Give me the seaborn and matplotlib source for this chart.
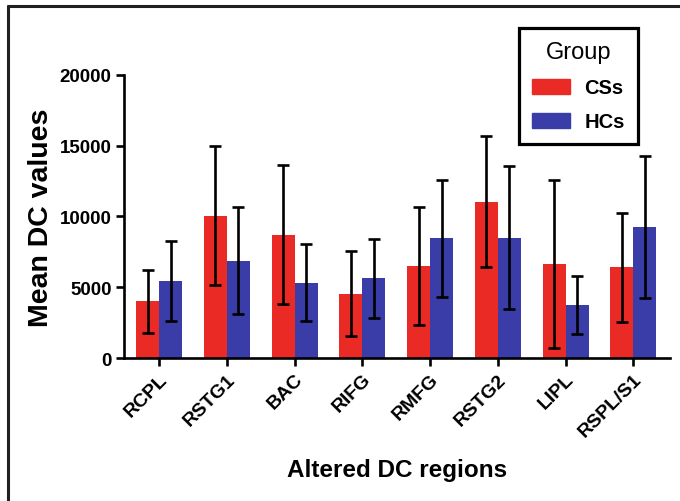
import matplotlib
matplotlib.use("Agg")
import matplotlib.pyplot as plt
from matplotlib.lines import Line2D
import pandas as pd
import numpy as np
import seaborn as sns

# values
regions = ['RCPL', 'RSTG1', 'BAC', 'RIFG', 'RMFG', 'RSTG2', 'LIPL', 'RSPL/S1']
groups = ['CSs', 'HCs']
cs_mean = [4000, 10060, 8690, 4550, 6480, 11030, 6620, 6410]
cs_sd = [2210, 4910, 4900, 2970, 4160, 4620, 5940, 3850]
hc_mean = [5460, 6880, 5320, 5630, 8460, 8500, 3750, 9260]
hc_sd = [2830, 3750, 2730, 2780, 4130, 5050, 2050, 5030]
colors = ['#EA2B25', '#3A3CA8']

df = pd.DataFrame({
    'region': regions * 2,
    'group': [groups[0]] * len(regions) + [groups[1]] * len(regions),
    'mean': cs_mean + hc_mean,
})
sds = [cs_sd, hc_sd]

sns.set_style('ticks')
plt.rcParams['font.family'] = ['Liberation Sans', 'DejaVu Sans']
plt.rcParams['text.color'] = 'black'
plt.rcParams['axes.labelcolor'] = 'black'
plt.rcParams['xtick.color'] = 'black'
plt.rcParams['ytick.color'] = 'black'

fig = plt.figure(figsize=(6.8, 5.02), dpi=100)
ax = fig.add_axes([124 / 680, 1 - 359 / 502, (670 - 124) / 680, (359 - 75.7) / 502])

sns.barplot(data=df, x='region', y='mean', hue='group', palette=colors,
            width=0.68, errorbar=None, saturation=1, linewidth=0, ax=ax)

for cont, sd, m in zip(ax.containers, sds, [cs_mean, hc_mean]):
    xs = [p.get_x() + p.get_width() / 2 for p in cont.patches]
    ax.errorbar(xs, m, yerr=sd, fmt='none', ecolor='black', elinewidth=1.9,
                capsize=4.5, capthick=1.9, zorder=5)

ax.set_xlim(-0.52, 7.54)
ax.set_ylim(0, 20000)
ax.set_yticks([0, 5000, 10000, 15000, 20000])
ax.set_yticklabels(['0', '5000', '10000', '15000', '20000'],
                   fontsize=13.5, fontweight='bold')
ax.set_xticks(range(len(regions)))
ax.set_xticklabels(regions, rotation=45, ha='right', rotation_mode='anchor',
                   fontsize=14, fontweight='bold')
ax.tick_params(axis='both', width=1.9, length=6, color='black', pad=3)
for s in ['left', 'bottom']:
    ax.spines[s].set_linewidth(1.9)
    ax.spines[s].set_color('black')
sns.despine(ax=ax)

ax.set_xlabel('Altered DC regions', fontsize=17.5, fontweight='bold', labelpad=13)
ax.set_ylabel('Mean DC values', fontsize=20.5, fontweight='bold', labelpad=4)

ax.get_legend().remove()
handles = [plt.Rectangle((0, 0), 1, 1, color=c) for c in colors]
leg = fig.legend(handles, groups, title='Group', loc='upper right',
                 bbox_to_anchor=(638 / 680, 1 - 29 / 502), frameon=True,
                 fancybox=False, edgecolor='black', framealpha=1,
                 fontsize=14.5, title_fontsize=17, handlelength=1.9,
                 handleheight=0.75, borderpad=0.65, labelspacing=0.75,
                 handletextpad=0.7, borderaxespad=0)
leg.get_frame().set_linewidth(2.3)
for t in leg.get_texts():
    t.set_fontweight('bold')

# outer frame (top and left edges only)
fig.add_artist(Line2D([8 / 680, 1], [1 - 6.5 / 502, 1 - 6.5 / 502],
                      color='#231F20', lw=2.2, transform=fig.transFigure))
fig.add_artist(Line2D([8 / 680, 8 / 680], [0, 1 - 6.5 / 502],
                      color='#231F20', lw=2.2, transform=fig.transFigure))

fig.savefig('out.png', dpi=100)
